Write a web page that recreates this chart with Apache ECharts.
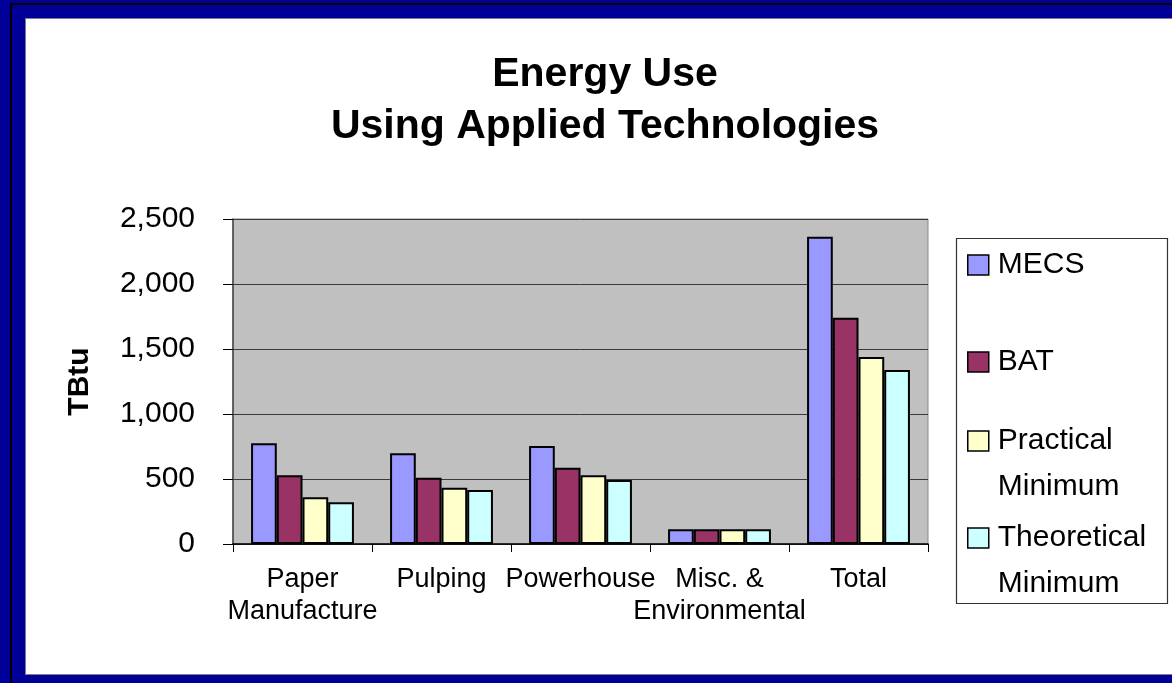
<!DOCTYPE html>
<html>
<head>
<meta charset="utf-8" />
<title>Energy Use Using Applied Technologies</title>
<style type="text/css">
*{margin:0;padding:0;}
body{width:1172px;height:683px;background:#000099;overflow:hidden;position:relative;}
#lineV{position:absolute;left:10px;top:3px;width:2px;height:680px;background:#000;}
#lineH{position:absolute;left:10px;top:3px;width:1162px;height:2px;background:#000;}
#edge{position:absolute;left:25px;top:18px;width:1147px;height:657px;background:#808080;}
#chart{position:absolute;left:26px;top:19px;width:1146px;height:655px;background:#fff;}
</style>
</head>
<body>
<div id="lineV"></div>
<div id="lineH"></div>
<div id="edge"></div>
<div id="chart"></div>
<script src="https://cdn.jsdelivr.net/npm/echarts@6/dist/echarts.min.js"></script>
<script type="text/javascript">
// values (TBtu)
var categories = ['Paper\nManufacture', 'Pulping', 'Powerhouse', 'Misc. &\nEnvironmental', 'Total'];
var seriesNames = ['MECS', 'BAT', 'Practical\nMinimum', 'Theoretical\nMinimum'];
var mecs = [775, 698, 754, 113, 2364];
var bat = [528, 510, 587, 113, 1741];
var practical = [359, 433, 528, 113, 1438];
var theoretical = [321, 415, 492, 113, 1338];
var colors = ['#9999FF', '#993366', '#FFFFCC', '#CCFFFF'];

var font = 'Liberation Sans, Arial, sans-serif';
var values = [mecs, bat, practical, theoretical];

var series = seriesNames.map(function (n, i) {
	return {
		name: n,
		type: 'bar',
		data: values[i],
		barGap: '0%',
		barCategoryGap: '26%',
		itemStyle: {color: colors[i], borderColor: '#000', borderWidth: 2},
		emphasis: {disabled: true}
	};
});

// one legend per entry so each can sit where the original puts it
// two-line names get an empty first line so the swatch lines up with the first text line
var legendTops = [231, 328, 353, 450];
var legends = seriesNames.map(function (n, i) {
	var twoLine = n.indexOf('\n') >= 0;
	return {
		data: [n],
		orient: 'vertical',
		left: 941,
		top: legendTops[i],
		padding: 0,
		itemWidth: 21,
		itemHeight: 20,
		icon: 'rect',
		selectedMode: false,
		itemStyle: {borderColor: '#000', borderWidth: 1.5},
		formatter: function (name) { return twoLine ? ' \n' + name : name; },
		textStyle: {
			fontFamily: font, fontSize: 30, color: '#000',
			lineHeight: twoLine ? 46 : 30,
			padding: [0, 0, 0, 4]
		}
	};
});

var option = {
	animation: false,
	color: colors,
	title: {
		text: 'Energy Use\nUsing Applied Technologies',
		left: 574,
		textAlign: 'center',
		top: 25,
		textStyle: {fontFamily: font, fontSize: 41, fontWeight: 'bold', color: '#000', lineHeight: 52}
	},
	legend: legends,
	grid: {
		left: 207, top: 200, width: 695, height: 325,
		show: true, backgroundColor: '#C0C0C0', borderColor: '#888', borderWidth: 1
	},
	graphic: [{
		type: 'rect',
		left: 928, top: 217,
		shape: {width: 211, height: 365},
		style: {fill: 'none', stroke: '#333', lineWidth: 1.2},
		silent: true
	}],
	xAxis: {
		type: 'category',
		data: categories,
		axisLine: {lineStyle: {color: '#000', width: 1.5}},
		axisTick: {show: true, length: 8, alignWithLabel: false, lineStyle: {color: '#000'}},
		axisLabel: {
			interval: 0, margin: 20, color: '#000',
			fontFamily: font, fontSize: 27, lineHeight: 32
		}
	},
	yAxis: {
		type: 'value',
		min: 0, max: 2500, interval: 500,
		name: 'TBtu',
		nameLocation: 'middle',
		nameGap: 138,
		nameRotate: 90,
		nameTextStyle: {fontFamily: font, fontSize: 30, fontWeight: 'bold', color: '#000'},
		axisLine: {show: true, lineStyle: {color: '#444', width: 1.5}},
		axisTick: {show: true, length: 10, lineStyle: {color: '#000'}},
		splitLine: {lineStyle: {color: '#3a3a3a', width: 1}},
		axisLabel: {
			margin: 38, color: '#000', fontFamily: font, fontSize: 30,
			formatter: function (v) { return v.toLocaleString('en-US'); }
		}
	},
	series: series
};

var chart = echarts.init(document.getElementById('chart'));
chart.setOption(option);
</script>
</body>
</html>
